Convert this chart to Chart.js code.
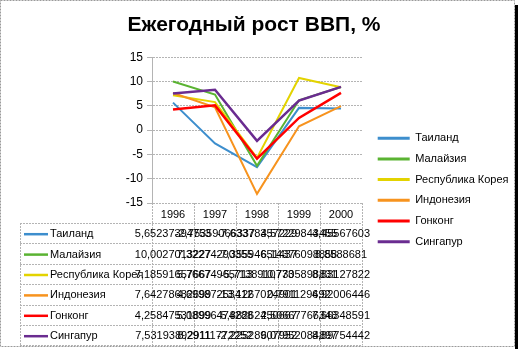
<!DOCTYPE html>
<html>
<head>
<meta charset="utf-8">
<script src="https://cdn.jsdelivr.net/npm/chart.js@4.4.1/dist/chart.umd.min.js"></script>
<style>
  html, body { margin: 0; padding: 0; background: #fff; }
  #wrap { width: 518px; height: 349px; position: relative; }
</style>
</head>
<body>
<div id="wrap"><canvas id="chart"></canvas></div>
<script>
// data
const years = ["1996", "1997", "1998", "1999", "2000"];
const countries = ["Таиланд", "Малайзия", "Республика Корея", "Индонезия", "Гонконг", "Сингапур"];
const thailand = [5.65237394753, -2.75359066337, -7.63378357229, 4.57229843455, 4.45567603];
const malaysia = [10.0027013227, 7.32274290355, -7.35594651437, 6.14376098858, 8.8588681];
const korea = [7.18591657667, 5.76674965713, -5.7138910773, 10.7305898831, 8.83127822];
const indonesia = [7.64278682699, 4.69987253412, -13.1267024901, 0.791129692, 4.92006446];
const hongkong = [4.25847531899, 5.08996474288, -5.88262450667, 2.50667766348, 7.66348591];
const singapore = [7.53193892911, 8.29111772252, -2.22528907952, 6.07952084897, 8.89754442];
const yTicks = [-15, -10, -5, 0, 5, 10, 15];

const seriesValues = [thailand, malaysia, korea, indonesia, hongkong, singapore];
const colors = ["#3d8ecd", "#5ab332", "#e3d300", "#f7931e", "#ff0000", "#6a2c90"];
const widths = [2, 2, 2, 2, 2.5, 2.5];
const gridColor = "#b4b4b4";
const font = "'Liberation Sans', Arial, sans-serif";

const frame = {
  id: "frame",
  beforeDraw(chart) {
    const ctx = chart.ctx;
    ctx.save();
    ctx.fillStyle = "#fff";
    ctx.fillRect(0, 0, chart.width, chart.height);
    ctx.restore();
  },
  afterLayout(chart) {
    // move the side legend down, next to the table like in the picture
    const lg = chart.legend;
    const w = lg.width, h = lg.height;
    lg.left = 368; lg.right = 368 + w;
    lg.top = 123; lg.bottom = 123 + h;
  },
  afterDraw(chart) {
    const ctx = chart.ctx;
    const area = chart.chartArea;
    const x = chart.scales.x;
    const band = x.getPixelForValue(1) - x.getPixelForValue(0);
    const rowTop = area.bottom + 20;
    const rowH = 20.4;
    const tableLeft = 20;
    const tableBottom = rowTop + rowH * countries.length;

    ctx.save();
    ctx.strokeStyle = gridColor;
    ctx.lineWidth = 1;
    ctx.setLineDash([2, 1]);
    ctx.beginPath();
    for (let i = 0; i <= years.length; i++) {
      const px = Math.round(x.getPixelForValue(i) - band / 2) + 0.5;
      ctx.moveTo(px, area.bottom);
      ctx.lineTo(px, tableBottom);
    }
    for (let r = 0; r <= countries.length; r++) {
      const py = Math.round(rowTop + r * rowH) + 0.5;
      ctx.moveTo(tableLeft, py);
      ctx.lineTo(area.right, py);
    }
    ctx.moveTo(tableLeft + 0.5, rowTop);
    ctx.lineTo(tableLeft + 0.5, tableBottom);
    ctx.stroke();
    ctx.setLineDash([]);

    ctx.font = "11px " + font;
    ctx.textBaseline = "middle";
    countries.forEach((name, r) => {
      const cy = rowTop + r * rowH + rowH / 2 + 1;
      ctx.strokeStyle = colors[r];
      ctx.lineWidth = 2.5;
      ctx.beginPath();
      ctx.moveTo(24, cy);
      ctx.lineTo(48, cy);
      ctx.stroke();
      ctx.fillStyle = "#000";
      ctx.textAlign = "left";
      ctx.fillText(name, 50, cy);
      ctx.textAlign = "center";
      seriesValues[r].forEach((v, i) => {
        ctx.fillText(String(v).replace(".", ","), x.getPixelForValue(i), cy);
      });
    });

    // outer frame with shadow
    ctx.strokeStyle = "#9a9a9a";
    ctx.lineWidth = 1;
    ctx.setLineDash([2, 1]);
    ctx.strokeRect(0.5, 0.5, 514, 346);
    ctx.setLineDash([]);
    ctx.fillStyle = "#000";
    ctx.fillRect(515, 5, 3, 344);
    ctx.restore();
  }
};

new Chart(document.getElementById("chart"), {
  type: "line",
  data: {
    labels: years,
    datasets: countries.map((name, i) => ({
      label: name,
      data: seriesValues[i],
      borderColor: colors[i],
      backgroundColor: colors[i],
      borderWidth: widths[i],
      pointRadius: 0,
      tension: 0,
      fill: false,
      order: countries.length - i,
    })),
  },
  options: {
    responsive: true,
    maintainAspectRatio: false,
    animation: false,
    layout: { padding: { left: 0, right: 10, top: 0, bottom: 127 } },
    plugins: {
      title: {
        display: true,
        text: "Ежегодный рост ВВП, %",
        color: "#000",
        font: { family: font, size: 21, weight: "bold" },
        padding: { top: 13, bottom: 19 },
      },
      legend: {
        position: "right",
        align: "start",
        maxWidth: 146,
        labels: {
          color: "#000",
          font: { family: font, size: 11 },
          boxWidth: 32,
          boxHeight: 3,
          padding: 9.7,
          generateLabels: (chart) =>
            chart.data.datasets.map((ds, i) => ({
              text: ds.label,
              fillStyle: ds.borderColor,
              strokeStyle: ds.borderColor,
              lineWidth: 0,
              hidden: false,
              datasetIndex: i,
            })),
        },
      },
      tooltip: { enabled: false },
    },
    scales: {
      x: {
        offset: true,
        grid: { display: false, drawTicks: false },
        border: { display: false },
        ticks: { color: "#000", font: { family: font, size: 11 }, padding: 5, maxRotation: 0 },
        afterFit: (scale) => { scale.height = 19; },
      },
      y: {
        min: yTicks[0],
        max: yTicks[yTicks.length - 1],
        afterBuildTicks: (scale) => { scale.ticks = yTicks.map((v) => ({ value: v })); },
        grid: { color: gridColor, tickLength: 5 },
        border: { color: gridColor, dash: [2, 1] },
        ticks: { color: "#000", font: { family: font, size: 12 }, padding: 4 },
        afterFit: (scale) => { scale.width = 152; },
      },
    },
  },
  plugins: [frame],
});
</script>
</body>
</html>
